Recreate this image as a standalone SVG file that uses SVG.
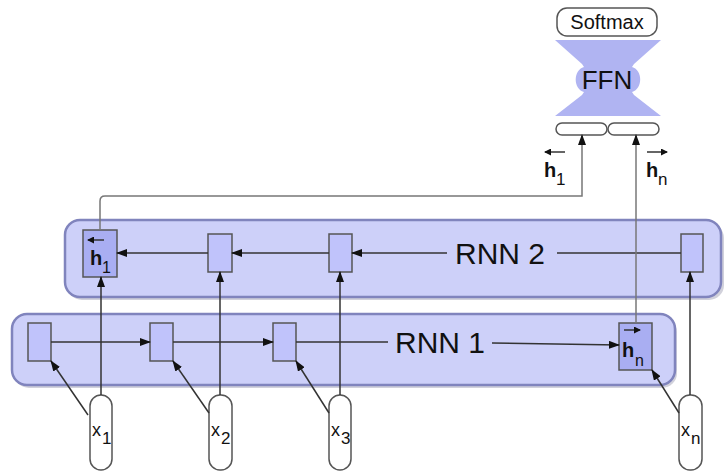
<svg xmlns="http://www.w3.org/2000/svg" width="724" height="471" viewBox="0 0 724 471">
<style>
text{font-family:"Liberation Sans",Arial,sans-serif;fill:#111}
.panel{fill:#cdd0f9;stroke:#8084bd;stroke-width:2.5}
.shadow{fill:#9a9ab0;opacity:0.45}
.cell{fill:#c0c3fb;stroke:#555;stroke-width:1.5}
.hcell{fill:#a9aef2;stroke:#555;stroke-width:1.5}
.pill{fill:#fff;stroke:#555;stroke-width:1.5}
.ln{fill:none;stroke:#333;stroke-width:1.5}
.gl{fill:none;stroke:#777;stroke-width:1.5}
.arr{marker-end:url(#ah)}
.big{font-size:30px}
.hb{font-weight:bold;font-size:20px}
.sub{font-size:17px}
.xl{font-size:18px}
</style>
<defs>
<marker id="ah" markerUnits="userSpaceOnUse" markerWidth="11" markerHeight="8" refX="10" refY="4" orient="auto">
<path d="M0,0 L11,4 L0,8 z" fill="#111"/>
</marker>
<marker id="sa" markerUnits="userSpaceOnUse" markerWidth="7" markerHeight="7" refX="6" refY="3.5" orient="auto">
<path d="M0,0 L7,3.5 L0,7 z" fill="#111"/>
</marker>
</defs>

<g id="rnn2">
<rect class="shadow" x="67" y="223" width="657" height="77" rx="15"/>
<rect class="panel" x="65" y="220" width="656" height="77" rx="15"/>
<text class="big" x="500" y="264" text-anchor="middle">RNN 2</text>
</g>
<g id="rnn1">
<rect class="shadow" x="14" y="317" width="663" height="71" rx="15"/>
<rect class="panel" x="12" y="314" width="663" height="71" rx="15"/>
<text class="big" x="440" y="353" text-anchor="middle">RNN 1</text>
</g>

<g id="rnn2-cells">
<rect class="hcell" x="83" y="230" width="34" height="47"/>
<rect class="cell" x="208" y="234" width="24" height="38"/>
<rect class="cell" x="329" y="234" width="23" height="38"/>
<rect class="cell" x="681" y="234" width="22" height="38"/>
</g>
<g id="rnn1-cells">
<rect class="cell" x="28" y="323" width="23" height="38"/>
<rect class="cell" x="150" y="323" width="23" height="38"/>
<rect class="cell" x="273" y="323" width="23" height="38"/>
<rect class="hcell" x="619" y="323" width="33" height="47"/>
</g>

<g id="inputs">
<rect class="pill" x="90" y="395" width="22" height="75" rx="11"/>
<rect class="pill" x="209" y="395" width="23" height="75" rx="11"/>
<rect class="pill" x="329" y="395" width="22" height="75" rx="11"/>
<rect class="pill" x="679" y="395" width="23" height="75" rx="11"/>
<text class="xl" x="92" y="436">x</text><text class="sub" x="102" y="444">1</text>
<text class="xl" x="211" y="436">x</text><text class="sub" x="221" y="444">2</text>
<text class="xl" x="331" y="436">x</text><text class="sub" x="341" y="444">3</text>
<text class="xl" x="681" y="436">x</text><text class="sub" x="691" y="444">n</text>
</g>

<g id="softmax">
<rect class="pill" x="557" y="8" width="100" height="28" rx="10"/>
<text x="607" y="29" font-size="20" text-anchor="middle">Softmax</text>
</g>
<g id="ffn">
<path d="M555,40 L661,40 L634,64 L632,67 C643,70 643,89 632,92 L634,95 L661,116 L555,116 L582,95 L584,92 C573,89 573,70 584,67 L582,64 Z" fill="#b0b4f2"/>
<text x="607" y="89" font-size="26" text-anchor="middle">FFN</text>
<rect class="pill" x="556" y="123" width="51" height="12" rx="6"/>
<rect class="pill" x="608" y="123" width="51" height="12" rx="6"/>
</g>

<g id="connectors">
<line class="ln arr" x1="51" y1="342" x2="150" y2="342"/>
<line class="ln arr" x1="173" y1="342" x2="273" y2="342"/>
<line class="ln" x1="296" y1="342" x2="388" y2="342"/>
<line class="ln arr" x1="492" y1="343" x2="619" y2="345"/>
<line class="ln arr" x1="208" y1="253" x2="117" y2="253"/>
<line class="ln arr" x1="329" y1="253" x2="232" y2="253"/>
<line class="ln arr" x1="447" y1="253" x2="352" y2="253"/>
<line class="ln" x1="681" y1="253" x2="557" y2="253"/>
<line class="ln arr" x1="101" y1="395" x2="101" y2="277"/>
<line class="ln arr" x1="220" y1="395" x2="220" y2="272"/>
<line class="ln arr" x1="340" y1="395" x2="340" y2="272"/>
<line class="ln arr" x1="690" y1="395" x2="690" y2="272"/>
<line class="ln arr" x1="88" y1="415" x2="51" y2="361"/>
<line class="ln arr" x1="209" y1="413" x2="173" y2="361"/>
<line class="ln arr" x1="329" y1="413" x2="296" y2="361"/>
<line class="ln arr" x1="679" y1="413" x2="652" y2="370"/>
<path class="gl arr" d="M100,230 V201 Q100,196 105,196 H582 V135"/>
<line class="gl arr" x1="636" y1="323" x2="636" y2="135"/>
</g>

<g id="labels">
<line class="ln" x1="565" y1="152" x2="545" y2="152" stroke-width="2" marker-end="url(#sa)"/>
<text class="hb" x="544" y="177">h</text><text class="sub" x="556" y="185">1</text>
<line class="ln" x1="647" y1="152" x2="667" y2="152" stroke-width="2" marker-end="url(#sa)"/>
<text class="hb" x="646" y="177">h</text><text class="sub" x="658" y="185">n</text>
<line class="ln" x1="104" y1="240" x2="88" y2="240" stroke-width="2" marker-end="url(#sa)"/>
<text class="hb" x="90" y="265">h</text><text x="102" y="273" font-size="16">1</text>
<line class="ln" x1="624" y1="330" x2="640" y2="330" stroke-width="2" marker-end="url(#sa)"/>
<text class="hb" x="622" y="357">h</text><text x="635" y="366" font-size="16">n</text>
</g>
</svg>
